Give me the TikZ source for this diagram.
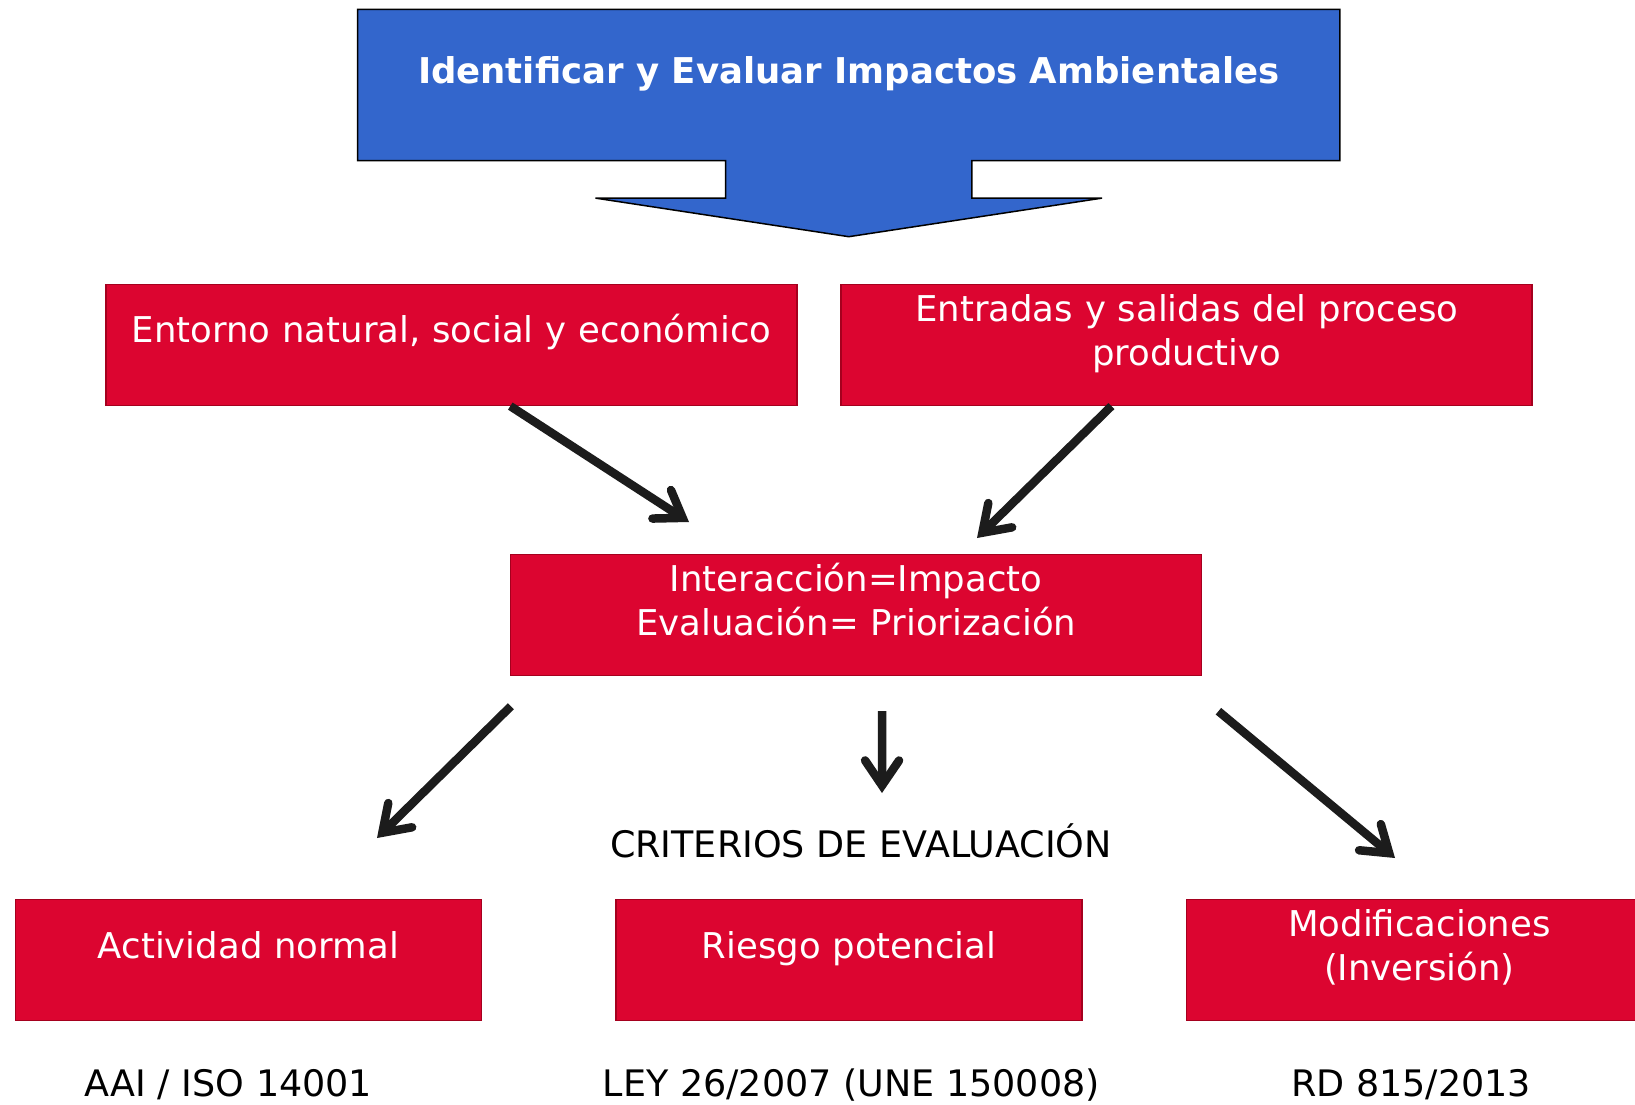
\documentclass[tikz,border=0pt]{standalone}
\usepackage{fontspec}
\setmainfont{DejaVu Sans}
\usetikzlibrary{arrows.meta}
\definecolor{boxred}{RGB}{220,5,48}
\definecolor{boxredline}{RGB}{165,0,30}
\definecolor{titleblue}{RGB}{51,102,204}
\definecolor{arrowblack}{RGB}{28,28,28}
\begin{document}
\begin{tikzpicture}[x=1pt,y=-1pt,
  bigfont/.style={font=\fontsize{35.5}{44}\selectfont},
  redbox/.style={draw=boxredline, fill=boxred, line width=1.5pt, inner sep=0pt, anchor=north west, align=center, text=white, bigfont},
  plaintext/.style={anchor=base, text=black, font=\fontsize{36.5}{44}\selectfont, inner sep=0pt},
  conn/.style={draw=arrowblack, line width=8.5pt, -{Straight Barb[length=25pt,width=34pt,line cap=round]}}]
\useasboundingbox (0,0) rectangle (1635,1105);
\clip (0,0) rectangle (1635,1105);
\fill[white] (0,0) rectangle (1635,1105);
% title arrow shape
\filldraw[fill=titleblue, draw=black, line width=1.5pt, line join=miter]
  (357.6,9.4) -- (1339.9,9.4) -- (1339.9,160.6) -- (971.8,160.6) -- (971.8,198.1)
  -- (1102.1,198.1) -- (848.8,236.7) -- (595.4,198.1) -- (725.7,198.1) -- (725.7,160.6)
  -- (357.6,160.6) -- cycle;
\node[anchor=base, text=white, font=\bfseries\fontsize{35.5}{44}\selectfont, inner sep=0pt] (title) at (848.8,84) {Identificar y Evaluar Impactos Ambientales};
% red boxes
\node[redbox, text width=691pt, text height=58pt, text depth=63pt] (ent) at (105.3,283.6) {Entorno natural, social y económico};
\node[redbox, text width=691pt, text height=37pt, text depth=84pt] (entr) at (840.4,283.6) {Entradas y salidas del proceso\\productivo};
\node[redbox, text width=691pt, text height=37pt, text depth=84pt] (inter) at (509.9,553.7) {Interacción=Impacto\\Evaluación= Priorización};
\node[redbox, text width=466pt, text height=59pt, text depth=62pt] (act) at (14.6,898.8) {Actividad normal};
\node[redbox, text width=466pt, text height=59pt, text depth=62pt] (ries) at (615.2,898.8) {Riesgo potencial};
\node[redbox, text width=466pt, text height=37pt, text depth=84pt] (mod) at (1185.6,898.8) {Modificaciones\\(Inversión)};
% texts
\node[plaintext] (crit) at (861,857) {CRITERIOS DE EVALUACIÓN};
\node[plaintext] (aai) at (228.4,1096) {AAI / ISO 14001};
\node[plaintext] (ley) at (851.4,1096) {LEY 26/2007 (UNE 150008)};
\node[plaintext] (rd) at (1411,1096) {RD 815/2013};
% arrow ends
\coordinate (t1) at (689,522);
\coordinate (t2) at (977,538);
\coordinate (t3) at (377,838);
\coordinate (t4) at (882,793);
\coordinate (t5) at (1395,858);
\draw[conn] ([xshift=405pt]ent.south west) -- (t1);
\draw[conn] ([xshift=271pt]entr.south west) -- (t2);
\draw[conn] ([xshift=1pt,yshift=-30pt]inter.south west) -- (t3);
\draw[conn] ([xshift=26pt,yshift=-35pt]inter.south) -- (t4);
\draw[conn] ([xshift=16pt,yshift=-35pt]inter.south east) -- (t5);
\end{tikzpicture}
\end{document}
